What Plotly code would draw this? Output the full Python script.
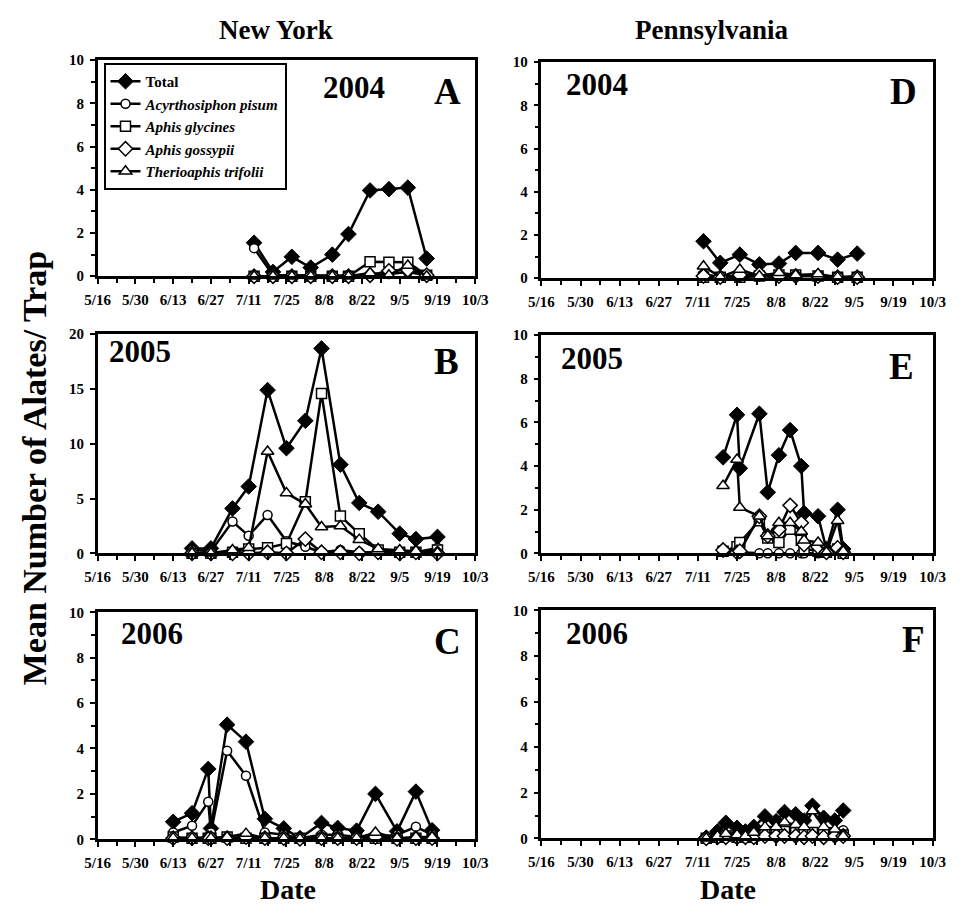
import pandas as pd
import plotly.graph_objects as go

# ---------------- data ----------------
series_names = ["Total", "Acyrthosiphon pisum", "Aphis glycines", "Aphis gossypii", "Therioaphis trifolii"]
tick_labels = ["5/16", "5/30", "6/13", "6/27", "7/11", "7/25", "8/8", "8/22", "9/5", "9/19", "10/3"]

# Panel A: New York 2004
ny04_dates = ["7/13", "7/20", "7/27", "8/3", "8/11", "8/17", "8/25", "9/1", "9/8", "9/15"]
ny04_total = [1.55, 0.2, 0.9, 0.4, 1.0, 1.95, 3.97, 4.03, 4.1, 0.82]
ny04_pisum = [1.3, 0.05, 0.05, 0.05, 0.05, 0.05, 0.02, 0.1, 0.2, 0.05]
ny04_glycines = [0, 0, 0, 0, 0, 0, 0.67, 0.65, 0.65, 0.05]
ny04_gossypii = [0, 0, 0, 0, 0, 0, 0.05, 0.25, 0.3, 0.05]
ny04_trifolii = [0, 0, 0, 0, 0, 0, 0.15, 0.05, 0.5, 0]

# Panel B: New York 2005
ny05_dates = ["6/20", "6/27", "7/5", "7/11", "7/18", "7/25", "8/1", "8/7", "8/14", "8/21", "8/28", "9/5", "9/11", "9/19"]
ny05_total = [0.45, 0.45, 4.1, 6.1, 14.9, 9.6, 12.1, 18.7, 8.1, 4.6, 3.8, 1.8, 1.3, 1.5]
ny05_pisum = [0.3, 0.2, 2.9, 1.6, 3.5, 1.1, 0.6, 0.1, 0.3, 0.1, 0.1, 0.1, 0.1, 0.5]
ny05_glycines = [0, 0, 0.1, 0.4, 0.5, 0.9, 4.7, 14.6, 3.4, 1.8, 0.3, 0.1, 0.1, 0.3]
ny05_gossypii = [0, 0, 0, 0, 0.1, 0, 1.3, 0.1, 0.1, 0, 0.1, 0, 0.1, 0]
ny05_trifolii = [0, 0, 0.3, 0.5, 9.3, 5.5, 4.5, 2.4, 2.5, 1.25, 0.4, 0.3, 0.2, 0.05]

# Panel C: New York 2006
ny06_dates = ["6/13", "6/20", "6/26", "6/27", "7/3", "7/10", "7/17", "7/24", "7/30", "8/7", "8/13", "8/20", "8/27", "9/4", "9/11", "9/17"]
ny06_total = [0.77, 1.15, 3.1, 0.48, 5.05, 4.3, 0.9, 0.48, 0.05, 0.72, 0.5, 0.38, 2.0, 0.35, 2.1, 0.4]
ny06_pisum = [0.3, 0.6, 1.65, 0.3, 3.9, 2.8, 0.3, 0.2, 0.05, 0.2, 0.2, 0.1, 0.1, 0.2, 0.55, 0.2]
ny06_glycines = [0.1, 0.05, 0.05, 0.05, 0.1, 0.05, 0.05, 0.05, 0.05, 0.05, 0.05, 0.05, 0.05, 0.05, 0.05, 0.05]
ny06_gossypii = [0.05, 0.05, 0.05, 0.05, 0.05, 0.1, 0.05, 0.05, 0.02, 0.05, 0.05, 0.05, 0.1, 0.02, 0.05, 0.05]
ny06_trifolii = [0.05, 0.05, 0.1, 0.05, 0.1, 0.25, 0.05, 0.05, 0.02, 0.05, 0.05, 0.05, 0.3, 0.05, 0.1, 0.1]

# Panel D: Pennsylvania 2004
pa04_dates = ["7/13", "7/19", "7/26", "8/2", "8/9", "8/15", "8/23", "8/30", "9/6"]
pa04_total = [1.71, 0.71, 1.09, 0.64, 0.68, 1.17, 1.17, 0.86, 1.14]
pa04_pisum = [0.2, 0.05, 0.1, 0.1, 0.05, 0.1, 0.1, 0.05, 0.1]
pa04_glycines = [0.05, 0.05, 0.05, 0.1, 0.15, 0.15, 0.1, 0.05, 0.05]
pa04_gossypii = [0.1, 0.05, 0.15, 0.2, 0.1, 0.1, 0.1, 0.05, 0.05]
pa04_trifolii = [0.55, 0.05, 0.4, 0.1, 0.25, 0.15, 0.2, 0.05, 0.05]

# Panel E: Pennsylvania 2005
pa05_dates = ["7/20", "7/25", "7/26", "8/2", "8/5", "8/9", "8/13", "8/17", "8/18", "8/23", "8/26", "8/30", "9/1"]
pa05_total = [4.4, 6.35, 3.9, 6.4, 2.8, 4.5, 5.65, 4.0, 1.85, 1.7, 0.2, 2.0, 0.2]
pa05_pisum = [0.1, 0.05, 0.05, 0.0, 0.0, 0.0, 0.0, 0.0, 0.0, 0.0, 0.0, 0.2, 0.0]
pa05_glycines = [0.1, 0.3, 0.5, 1.5, 0.7, 0.5, 1.1, 0.6, 0.2, 0.1, 0.05, 0.2, 0.0]
pa05_gossypii = [0.15, 0.05, 0.1, 1.7, 0.8, 1.1, 2.2, 1.4, 0.4, 0.3, 0.05, 0.25, 0.05]
pa05_trifolii = [3.1, 4.3, 2.1, 1.7, 0.8, 1.4, 1.4, 1.0, 0.6, 0.5, 0.05, 1.5, 0.1]

# Panel F: Pennsylvania 2006
pa06_dates = ["7/14", "7/18", "7/21", "7/25", "7/28", "7/31", "8/4", "8/8", "8/11", "8/15", "8/18", "8/21", "8/25", "8/29", "9/1"]
pa06_total = [0.03, 0.3, 0.68, 0.46, 0.3, 0.5, 0.96, 0.75, 1.15, 1.05, 0.78, 1.43, 0.9, 0.78, 1.22]
pa06_pisum = [0, 0.05, 0.05, 0.0, 0.05, 0.05, 0.1, 0.1, 0.1, 0.1, 0.1, 0.15, 0.1, 0.15, 0.35]
pa06_glycines = [0, 0.05, 0.1, 0.05, 0.05, 0.1, 0.2, 0.2, 0.3, 0.25, 0.2, 0.25, 0.2, 0.15, 0.15]
pa06_gossypii = [0, 0.05, 0.05, 0.05, 0.05, 0.05, 0.1, 0.1, 0.1, 0.1, 0.05, 0.1, 0.05, 0.1, 0.1]
pa06_trifolii = [0, 0.1, 0.2, 0.15, 0.1, 0.25, 0.5, 0.5, 0.7, 0.6, 0.5, 1.2, 0.5, 0.4, 0.1]

panels = [
    ("A", "2004", ny04_dates, [ny04_total, ny04_pisum, ny04_glycines, ny04_gossypii, ny04_trifolii], 10),
    ("B", "2005", ny05_dates, [ny05_total, ny05_pisum, ny05_glycines, ny05_gossypii, ny05_trifolii], 20),
    ("C", "2006", ny06_dates, [ny06_total, ny06_pisum, ny06_glycines, ny06_gossypii, ny06_trifolii], 10),
    ("D", "2004", pa04_dates, [pa04_total, pa04_pisum, pa04_glycines, pa04_gossypii, pa04_trifolii], 10),
    ("E", "2005", pa05_dates, [pa05_total, pa05_pisum, pa05_glycines, pa05_gossypii, pa05_trifolii], 10),
    ("F", "2006", pa06_dates, [pa06_total, pa06_pisum, pa06_glycines, pa06_gossypii, pa06_trifolii], 10),
]

# ---------------- styling / layout ----------------
W, H = 968, 920
FONT = "Liberation Serif, Times New Roman, serif"

def to_date(md):
    return pd.to_datetime("2004/" + md, format="%Y/%m/%d")

tick_dates = [to_date(t) for t in tick_labels]
x_start, x_end = tick_dates[0], tick_dates[-1]

# pixel boxes (left, right, top, bottom)
boxes = {
    "A": (87, 475, 53, 273), "B": (87, 475, 332, 555), "C": (87, 475, 615, 846),
    "D": (543, 945, 55, 275), "E": (543, 945, 333, 555), "F": (543, 945, 613, 845),
}
year_pos = {"A": (350, 81), "B": (131, 350), "C": (143, 637), "D": (600, 78), "E": (595, 357), "F": (600, 637)}
letter_pos = {"A": (447, 85), "B": (445, 360), "C": (447, 645), "D": (915, 85), "E": (913, 365), "F": (925, 643)}

marker_styles = [
    dict(symbol="diamond", size=12, color="black", line=dict(color="black", width=1)),
    dict(symbol="circle", size=9, color="white", line=dict(color="black", width=1.5)),
    dict(symbol="square", size=10, color="white", line=dict(color="black", width=1.5)),
    dict(symbol="diamond", size=11, color="white", line=dict(color="black", width=1.5)),
    dict(symbol="triangle-up", size=11, color="white", line=dict(color="black", width=1.5)),
]
legend_names = ["Total", "<i>Acyrthosiphon pisum</i>", "<i>Aphis glycines</i>",
                "<i>Aphis gossypii</i>", "<i>Therioaphis trifolii</i>"]

fig = go.Figure()
layout = dict(width=W, height=H, margin=dict(l=0, r=0, t=0, b=0),
              paper_bgcolor="white", plot_bgcolor="white",
              font=dict(family=FONT, color="black"))
annotations = []

for i, (letter, year, dates, vals, ymax) in enumerate(panels):
    n = i + 1
    xname = "x" if n == 1 else f"x{n}"
    yname = "y" if n == 1 else f"y{n}"
    l, r, t, b = boxes[letter]
    xd = [l / W, r / W]
    yd = [1 - b / H, 1 - t / H]
    xs = [to_date(d) for d in dates]
    for k in range(5):
        fig.add_trace(go.Scatter(
            x=xs, y=vals[k], mode="lines+markers", xaxis=xname, yaxis=yname,
            name=legend_names[k], legendgroup=series_names[k], showlegend=(n == 1),
            line=dict(color="black", width=2.5), marker=marker_styles[k], cliponaxis=False))
    common = dict(showline=True, linewidth=2.5, linecolor="black", mirror=True,
                  showgrid=False, zeroline=False, ticks="outside", ticklen=5, tickwidth=2,
                  tickcolor="black", tickfont=dict(family=FONT, size=15, color="black", weight="bold"))
    layout["xaxis" if n == 1 else f"xaxis{n}"] = dict(
        domain=xd, anchor=yname, type="date", range=[x_start, x_end],
        tickvals=tick_dates, ticktext=tick_labels, ticklabelstandoff=3,
        minor=dict(ticks="outside", ticklen=4, tickwidth=2, tickcolor="black",
                   dtick=7 * 86400000, tick0=x_start, showgrid=False),
        **common)
    ydict = dict(domain=yd, anchor=xname, range=[0, ymax], dtick=(5 if ymax == 20 else 2),
                 ticklabelstandoff=3, **common)
    if ymax == 10:
        ydict["minor"] = dict(ticks="outside", ticklen=4, tickwidth=2, tickcolor="black", dtick=1, showgrid=False)
    layout["yaxis" if n == 1 else f"yaxis{n}"] = ydict
    yx, yy = year_pos[letter]
    annotations.append(dict(x=yx / W, y=1 - yy / H, xref="paper", yref="paper", text=year, showarrow=False,
                            xanchor="center", yanchor="middle",
                            font=dict(family=FONT, size=31, color="black", weight="bold")))
    lx, ly = letter_pos[letter]
    annotations.append(dict(x=lx / W, y=1 - ly / H, xref="paper", yref="paper", text=letter, showarrow=False,
                            xanchor="center", yanchor="middle",
                            font=dict(family=FONT, size=37, color="black", weight="bold")))

# titles
for txt, x, y, s in [("New York", 270, 22, 27), ("Pennsylvania", 718, 22, 27), ("Date", 283, 897, 28), ("Date", 735, 897, 28)]:
    annotations.append(dict(x=x / W, y=1 - y / H, xref="paper", yref="paper", text=txt, showarrow=False,
                            xanchor="center", yanchor="middle",
                            font=dict(family=FONT, size=s, color="black", weight="bold")))
annotations.append(dict(x=22 / W, y=1 - 468 / H, xref="paper", yref="paper", text="Mean Number of Alates/ Trap",
                        showarrow=False, textangle=-90, xanchor="center", yanchor="middle",
                        font=dict(family=FONT, size=34, color="black", weight="bold")))

layout["annotations"] = annotations
layout["showlegend"] = True
layout["legend"] = dict(x=93 / W, y=1 - 56 / H, xanchor="left", yanchor="top",
                        bordercolor="black", borderwidth=2, bgcolor="white",
                        font=dict(family=FONT, size=15, color="black", weight="bold"),
                        tracegroupgap=0, itemwidth=30)
fig.update_layout(**layout)
fig.write_html("out.html")
